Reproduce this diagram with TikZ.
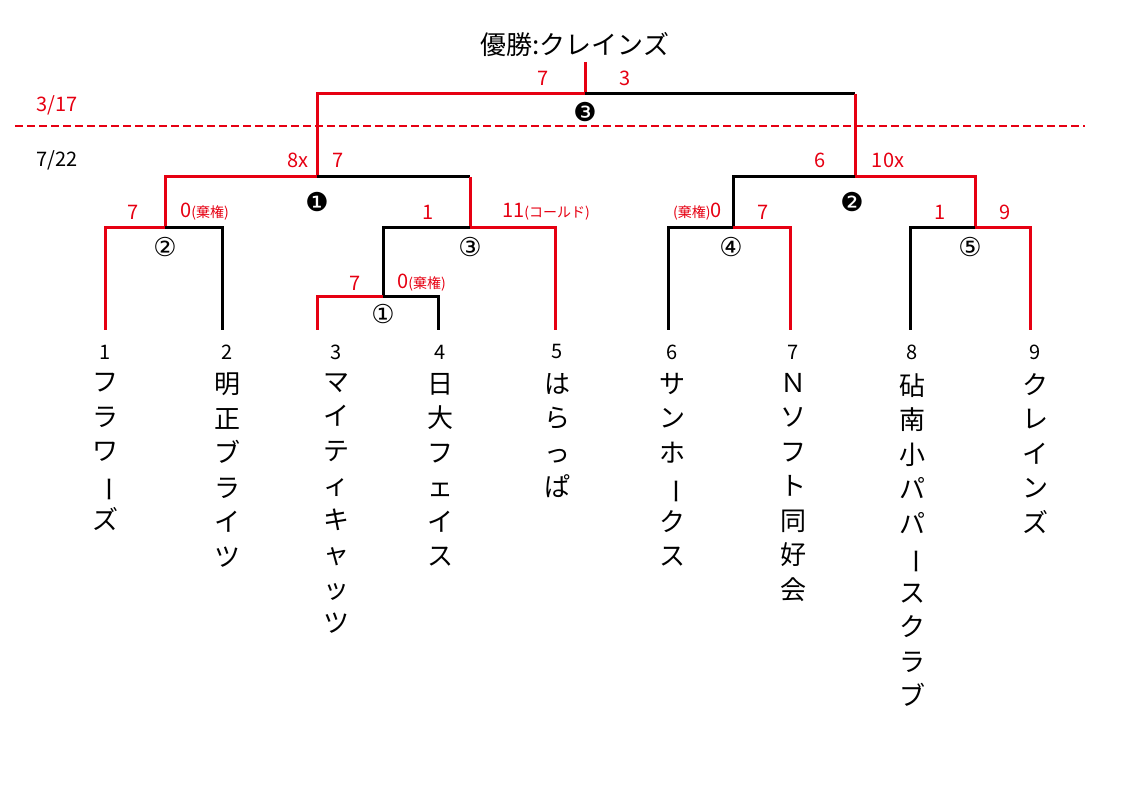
\documentclass[tikz,border=0pt]{standalone}
\usepackage{fontspec}
\setmainfont{Noto Sans CJK JP}
\newfontfamily\djv{DejaVu Sans}
\definecolor{rd}{RGB}{230,0,18}
\newcommand{\vb}{\rotatebox[origin=c]{-90}{ー}}
\tikzset{
 bk/.style={line width=3pt,black},
 rl/.style={line width=3pt,rd},
 sc/.style={text=rd,font=\fontsize{20}{20}\selectfont,inner sep=0pt},
 num/.style={font=\fontsize{20}{20}\selectfont,inner sep=0pt},
 nm/.style={font=\fontsize{26}{34.5}\selectfont,align=center,anchor=north,inner sep=0pt},
 cir/.style={font=\djv\fontsize{26}{26}\selectfont,inner sep=0pt},
}
\newcommand{\sm}{\fontsize{14}{14}\selectfont}
\begin{document}
\begin{tikzpicture}[x=1pt,y=-1pt]
\useasboundingbox (0,0) rectangle (1122,794);
\node[font=\fontsize{26}{26}\selectfont] (title) at (575,45) {優勝:クレインズ};
% dates
\draw[rd,line width=1.8pt,dash pattern=on 8pt off 4pt] (15,126) -- (1085,126);
\node[sc] (d1) at (57,105) {3/17};
\node[num] (d2) at (57,160) {7/22};
% final
\draw[rl] (585,62) -- (585,94) -- (317,94) -- (317,177);
\draw[bk] (585,94) -- (855,94);
\draw[rl] (855,94) -- (855,177);
\node[sc] at (543,78) {7}; \node[sc] at (625,78) {3};
\node[cir] (f) at (585,112) {❸};
% left semi
\draw[rl] (317,177) -- (165,177) -- (165,228);
\draw[bk] (317,177) -- (470,177);
\draw[rl] (470,177) -- (470,228);
\node[sc] at (298,160) {8x}; \node[sc] at (338,160) {7};
\node[cir] (s1) at (317,202) {❶};
% right semi
\draw[bk] (855,177) -- (733,177) -- (733,228);
\draw[rl] (855,177) -- (975,177) -- (975,228);
\node[sc] at (820,160) {6}; \node[sc] at (888,160) {10x};
\node[cir] (s2) at (852,202) {❷};
% match 2
\draw[rl] (165,228) -- (105,228) -- (105,330);
\draw[bk] (165,228) -- (222,228) -- (222,330);
\node[sc] at (133,212) {7}; \node[sc,anchor=west] at (180,212) {0{\sm(棄権)}};
\node[cir] (m2) at (165,247) {②};
% match 3
\draw[bk] (470,228) -- (383,228) -- (383,297);
\draw[rl] (470,228) -- (555,228) -- (555,330);
\node[sc] at (428,212) {1}; \node[sc,anchor=west] at (502,212) {11{\sm(コールド)}};
\node[cir] (m3) at (470,247) {③};
% match 1
\draw[rl] (383,297) -- (317,297) -- (317,330);
\draw[bk] (383,297) -- (438,297) -- (438,330);
\node[sc] at (355,283) {7}; \node[sc,anchor=west] at (397,283) {0{\sm(棄権)}};
\node[cir] (m1) at (383,314) {①};
% match 4
\draw[bk] (733,228) -- (668,228) -- (668,330);
\draw[rl] (733,228) -- (790,228) -- (790,330);
\node[sc,anchor=east] at (722,212) {{\sm(棄権)}0}; \node[sc] at (763,212) {7};
\node[cir] (m4) at (731,247) {④};
% match 5
\draw[bk] (975,228) -- (910,228) -- (910,330);
\draw[rl] (975,228) -- (1030,228) -- (1030,330);
\node[sc] at (940,212) {1}; \node[sc] at (1005,212) {9};
\node[cir] (m5) at (970,247) {⑤};
% teams
\foreach \n/\x/\t in {
 1/105/{フ\\ラ\\ワ\\\vb\\ズ},
 2/227/{明\\正\\ブ\\ラ\\イ\\ツ},
 3/336/{マ\\イ\\テ\\ィ\\キ\\ャ\\ッ\\ツ},
 4/440/{日\\大\\フ\\ェ\\イ\\ス},
 5/557/{は\\ら\\っ\\ぱ},
 6/672/{サ\\ン\\ホ\\\vb\\ク\\ス},
 7/793/{Ｎ\\ソ\\フ\\ト\\同\\好\\会},
 8/912/{砧\\南\\小\\パ\\パ\\\vb\\ス\\ク\\ラ\\ブ},
 9/1035/{ク\\レ\\イ\\ン\\ズ}}{
 \node[num] (n\n) at (\x,352) {\n};
 \node[nm] (t\n) at (\x,373) {\t};
}
\end{tikzpicture}
\end{document}
